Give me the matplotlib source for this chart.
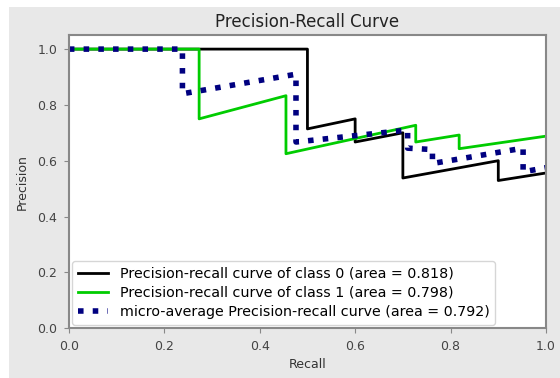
import matplotlib
matplotlib.use("Agg")
from matplotlib import pyplot as plt
from matplotlib.patches import Rectangle
import numpy as np

# recall / precision
recall_0 = [0.0, 0.5, 0.5, 0.6, 0.6, 0.7, 0.7, 0.9, 0.9, 1.0]
precision_0 = [1.0, 1.0, 0.714, 0.75, 0.667, 0.70, 0.538, 0.60, 0.529, 0.556]

recall_1 = [0.0, 0.273, 0.273, 0.455, 0.455, 0.727, 0.727, 0.818, 0.818, 1.0]
precision_1 = [1.0, 1.0, 0.75, 0.833, 0.625, 0.727, 0.667, 0.692, 0.643, 0.688]

recall_micro = [0.0, 0.238, 0.238, 0.476, 0.476, 0.71, 0.71, 0.762, 0.762, 0.952, 0.952, 1.0]
precision_micro = [1.0, 1.0, 0.84, 0.91, 0.667, 0.71, 0.645, 0.64, 0.59, 0.645, 0.56, 0.575]

labels = ["Precision-recall curve of class 0 (area = 0.818)",
          "Precision-recall curve of class 1 (area = 0.798)",
          "micro-average Precision-recall curve (area = 0.792)"]

fig = plt.figure(figsize=(5.6, 3.78), dpi=100)
fig.set_facecolor("white")
# grey window background, white strip on top/left like the screenshot
fig.patches.append(Rectangle((9 / 560, 0), 1, 1 - 7 / 378, transform=fig.transFigure,
                             facecolor="#e8e8e8", edgecolor="none", zorder=-10))

ax = fig.add_axes([0.123, 0.132, 0.852, 0.775])
ax.set(facecolor="white")

ax.plot(recall_0, precision_0, color="black", lw=2, label=labels[0])
ax.plot(recall_1, precision_1, color="#00cc00", lw=2, label=labels[1])
ax.plot(recall_micro, precision_micro, color="navy", lw=4, linestyle=":", label=labels[2])

ax.set_xlim(0.0, 1.0)
ax.set_ylim(0.0, 1.05)
ax.set_xlabel("Recall", fontsize=9, color="#333333")
ax.set_ylabel("Precision", fontsize=9, color="#333333", labelpad=6)
ax.set_title("Precision-Recall Curve", fontsize=12, color="#222222")

for s in ax.spines.values():
    s.set_color("#888888")
    s.set_linewidth(1.5)
ax.tick_params(colors="#888888", labelcolor="#444444", labelsize=9, pad=5)

ax.legend(loc="lower left", fontsize=10.3, handlelength=2.1, handletextpad=0.8,
          labelspacing=0.35, borderaxespad=0.25)

fig.savefig("out.png", dpi=100, facecolor=fig.get_facecolor())
